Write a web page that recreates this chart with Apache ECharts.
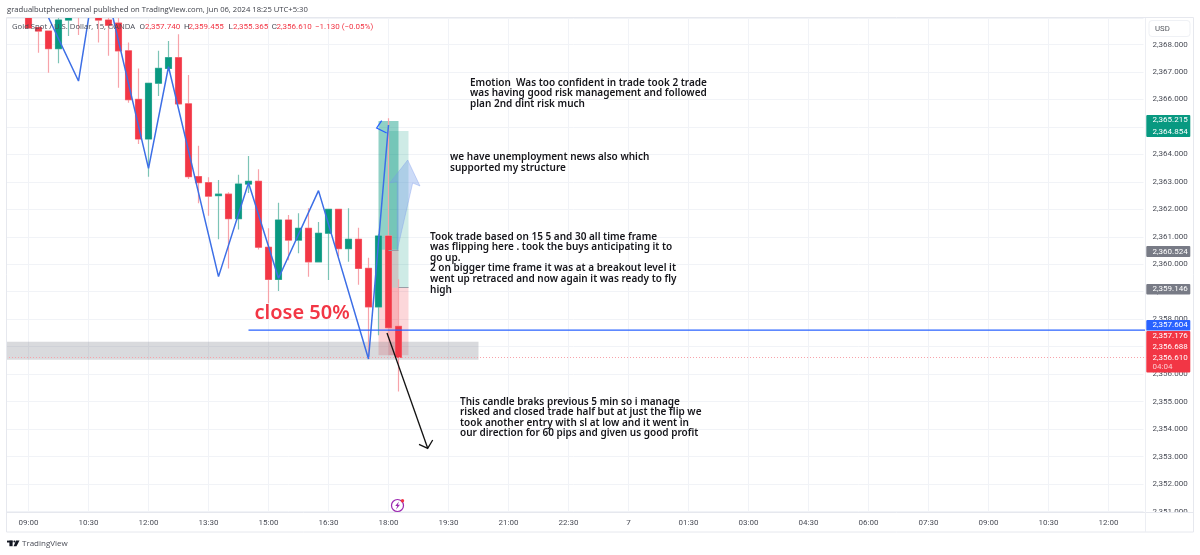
<!DOCTYPE html>
<html>
<head>
<meta charset="utf-8">
<title>Gold Spot / U.S. Dollar, 15, OANDA</title>
<style>
    html, body { margin: 0; padding: 0; background: #fff; }
    #main { width: 1200px; height: 555px; }
</style>
<script src="https://cdn.jsdelivr.net/npm/echarts@6/dist/echarts.min.js"></script>
</head>
<body>
<div id="main"></div>
<script>
// bar times, first bar on the axis is 08:30, one bar every 15 minutes
var categories = [];
for (var b = 0; b < 114; b++) {
    var m = (8 * 60 + 30 + b * 15) % 1440;
    var hh = Math.floor(m / 60), mm = m % 60;
    categories.push(m === 0 ? '7' : (hh < 10 ? '0' : '') + hh + ':' + (mm < 10 ? '0' : '') + mm);
}
var tickLabels = ['09:00', '10:30', '12:00', '13:30', '15:00', '16:30', '18:00', '19:30', '21:00', '22:30', '7', '01:30', '03:00', '04:30', '06:00', '07:30'];

var firstCandle = '09:00';
var opens = [2369.30, 2368.62, 2368.49, 2367.85, 2368.89, 2369.60, 2370.40, 2369.20, 2368.89, 2368.78, 2367.77, 2366.00, 2364.56, 2366.59, 2367.13, 2367.52, 2365.84, 2363.19, 2362.97, 2362.50, 2362.55, 2361.66, 2362.92, 2363.02, 2360.62, 2359.45, 2361.61, 2360.88, 2361.31, 2360.09, 2361.13, 2362.00, 2360.57, 2360.91, 2359.85, 2358.45, 2361.03, 2357.74];
var closes = [2368.60, 2368.49, 2367.85, 2368.89, 2369.00, 2369.20, 2370.00, 2368.89, 2368.70, 2367.77, 2365.99, 2364.56, 2366.59, 2367.13, 2367.52, 2365.84, 2363.19, 2362.97, 2362.48, 2362.55, 2361.66, 2362.92, 2363.02, 2360.62, 2359.45, 2361.61, 2360.88, 2361.31, 2360.09, 2361.13, 2362.00, 2360.57, 2360.91, 2359.85, 2358.45, 2361.03, 2357.69, 2356.61];
var lows = [2368.58, 2367.70, 2366.97, 2367.32, 2368.31, 2368.35, 2369.50, 2368.07, 2367.59, 2366.43, 2365.88, 2364.38, 2363.19, 2366.13, 2367.13, 2365.84, 2363.10, 2362.22, 2361.77, 2360.91, 2359.85, 2361.27, 2362.59, 2360.54, 2358.58, 2359.03, 2360.15, 2360.40, 2359.55, 2360.09, 2359.43, 2360.28, 2360.09, 2359.25, 2356.63, 2357.42, 2357.42, 2355.365];
var highs = [2369.50, 2368.62, 2368.49, 2369.10, 2369.20, 2369.80, 2370.90, 2369.50, 2369.00, 2368.965, 2368.07, 2367.13, 2366.59, 2367.77, 2368.13, 2368.37, 2366.89, 2364.31, 2363.17, 2363.07, 2362.62, 2363.26, 2363.94, 2363.46, 2361.31, 2362.24, 2361.79, 2361.86, 2362.04, 2361.54, 2362.00, 2362.00, 2362.04, 2361.33, 2360.24, 2361.10, 2365.32, 2359.455];

var zigzagTimes = ['09:15', '10:15', '10:45', '12:00', '12:30', '13:45', '14:30', '15:15', '16:15', '17:30', '18:00'];
var zigzagPrices = [2369.75, 2366.67, 2371.22, 2363.49, 2367.19, 2359.55, 2362.97, 2359.49, 2362.68, 2356.55, 2365.07];

var longA = {from: '17:45', to: '18:15', target: 2365.215, entry: 2360.524, stop: 2356.688};
var longB = {from: '18:00', to: '18:30', target: 2364.854, entry: 2359.146, stop: 2356.688};
var zoneTop = 2357.176, zoneBottom = 2356.52, zoneEnd = '20:15';
var levelStart = '14:30', levelPrice = 2357.604, lastPrice = 2356.61;

var legendKeys = ['O', 'H', 'L', 'C'];
var legendValues = ['2,357.740', '2,359.455', '2,355.365', '2,356.610'];
var legendChange = '\u22121.130 (\u22120.05%)';

var UP = '#089981', DOWN = '#f23645', BLUE = '#2962ff';
var NOTE_FONT = '"Noto Sans", "Open Sans", sans-serif';
var UI_FONT = '"Open Sans", sans-serif';

function bar(t) {
    return categories.indexOf(t);
}

var chart = echarts.init(document.getElementById('main'));

var wickData = [], bodyData = [], zigzagData = [];
var offset = bar(firstCandle);
for (var i = 0; i < offset; i++) {
    wickData.push('-');
    bodyData.push('-');
}
for (var j = 0; j < opens.length; j++) {
    wickData.push([opens[j], closes[j], lows[j], highs[j]]);
    bodyData.push([opens[j], closes[j], Math.min(opens[j], closes[j]), Math.max(opens[j], closes[j])]);
}
for (var k = 0; k < zigzagTimes.length; k++) {
    zigzagData.push([bar(zigzagTimes[k]), zigzagPrices[k]]);
}

function text(str, x, y, size, color, extra) {
    var style = {text: str, x: x, y: y, fontSize: size, fill: color, fontFamily: 'Roboto, sans-serif', verticalAlign: 'middle'};
    for (var key in (extra || {})) {
        style[key] = extra[key];
    }
    return {type: 'text', z: 110, silent: true, style: style};
}

function note(lines, x, ys) {
    return lines.map(function (line, idx) {
        return text(line, x, ys[idx], 10, '#15151a', {fontFamily: NOTE_FONT, fontWeight: 600});
    });
}

function tag(x, y, w, h, color) {
    return {type: 'rect', z: 105, silent: true, shape: {x: x, y: y, width: w, height: h, r: 1}, style: {fill: color}};
}

function priceText(str, y, color) {
    return text(str, 1152.5, y, 8, color || '#fff');
}

var graphics = [
    // masks for whatever runs past the pane, then its frame
    {type: 'rect', z: 90, silent: true, shape: {x: 0, y: 0, width: 1200, height: 17.5}, style: {fill: '#fff'}},
    {type: 'rect', z: 90, silent: true, shape: {x: 0, y: 18, width: 6, height: 495}, style: {fill: '#fff'}},
    {type: 'rect', z: 91, silent: true, shape: {x: 1146, y: 512.5, width: 47, height: 10}, style: {fill: '#fff'}},
    {type: 'rect', z: 92, silent: true, shape: {x: 6.5, y: 17.5, width: 1187, height: 514.5}, style: {fill: 'none', stroke: '#e6e8ee', lineWidth: 1}},
    {type: 'line', z: 92, silent: true, shape: {x1: 6.5, y1: 512.5, x2: 1193.5, y2: 512.5}, style: {stroke: '#e6e8ee', lineWidth: 1}},
    {type: 'line', z: 92, silent: true, shape: {x1: 1145.5, y1: 18, x2: 1145.5, y2: 532}, style: {stroke: '#eceef3', lineWidth: 1}},

    text('gradualbutphenomenal published on TradingView.com, Jun 06, 2024 18:25 UTC+5:30', 7, 9.5, 7.65, '#3c3f48', {fontFamily: UI_FONT}),
    text('Gold Spot / U.S. Dollar, 15, OANDA', 12, 27, 7.7, '#4a4d57', {fontFamily: UI_FONT}),
    text(legendKeys[0], 139.5, 27, 8, '#4a4d57'),
    text(legendValues[0], 145, 27, 8, DOWN),
    text(legendKeys[1], 184, 27, 8, '#4a4d57'),
    text(legendValues[1], 188.5, 27, 8, DOWN),
    text(legendKeys[2], 228.5, 27, 8, '#4a4d57'),
    text(legendValues[2], 233, 27, 8, DOWN),
    text(legendKeys[3], 271.7, 27, 8, '#4a4d57'),
    text(legendValues[3], 276.5, 27, 8, DOWN),
    text(legendChange, 315, 27, 8, DOWN),

    // drawings on the chart
    {type: 'polygon', z: 60, silent: true,
        shape: {points: [[407.7, 160], [420, 186], [412.7, 183], [397.3, 250], [397.3, 181.7], [390, 182.7]]},
        style: {fill: 'rgba(120,160,235,0.38)', stroke: 'rgba(120,150,235,0.35)', lineWidth: 1}},
    {type: 'polyline', z: 60, silent: true,
        shape: {points: [[381.7, 120.7], [376.7, 128], [386.7, 133]]},
        style: {fill: 'none', stroke: BLUE, lineWidth: 1.3}},
    {type: 'polyline', z: 80, silent: true,
        shape: {points: [[387, 333], [427.7, 448.3]]},
        style: {fill: 'none', stroke: '#111', lineWidth: 1.3}},
    {type: 'polyline', z: 80, silent: true,
        shape: {points: [[419, 444.3], [427.7, 448.3], [432.7, 440]]},
        style: {fill: 'none', stroke: '#111', lineWidth: 1.3}},
    text('close 50%', 254.5, 313, 20, DOWN, {fontFamily: NOTE_FONT, fontWeight: 600}),

    // lightning marker
    {type: 'circle', z: 80, silent: true, shape: {cx: 397.5, cy: 505.5, r: 6}, style: {fill: '#fff', stroke: '#9c27b0', lineWidth: 1.2}},
    {type: 'polygon', z: 81, silent: true, shape: {points: [[399, 501.5], [395.2, 506], [397.3, 506], [396, 509.5], [400, 504.8], [397.8, 504.8]]}, style: {fill: '#9c27b0'}},
    {type: 'circle', z: 82, silent: true, shape: {cx: 402.5, cy: 500.8, r: 1.7}, style: {fill: DOWN}},

    // price tags
    {type: 'rect', z: 100, silent: true, shape: {x: 1149, y: 20.5, width: 41, height: 16, r: 3}, style: {fill: '#fff', stroke: '#eff1f5', lineWidth: 1}},
    text('USD', 1155, 29, 7.8, '#55585f'),
    tag(1146.3, 115, 44, 22, UP),
    priceText('2,365.215', 120),
    priceText('2,364.854', 131.5),
    tag(1146.3, 246, 44, 11, '#787b86'),
    priceText('2,360.524', 251.5),
    tag(1146.3, 284, 44, 10.5, '#787b86'),
    priceText('2,359.146', 289),
    tag(1146.3, 320, 44, 10.5, BLUE),
    priceText('2,357.604', 325),
    tag(1146.3, 331, 44, 41.5, DOWN),
    priceText('2,357.176', 336),
    priceText('2,356.688', 346.7),
    priceText('2,356.610', 358),
    priceText('04:04', 367.3, '#fbc9ce'),

    // footer
    {type: 'rect', z: 110, silent: true, shape: {x: 7, y: 540.6, width: 5.6, height: 1.9}, style: {fill: '#131722'}},
    {type: 'rect', z: 110, silent: true, shape: {x: 9.4, y: 540.6, width: 3.2, height: 5.6}, style: {fill: '#131722'}},
    {type: 'circle', z: 110, silent: true, shape: {cx: 14.4, cy: 541.5, r: 1}, style: {fill: '#131722'}},
    {type: 'polygon', z: 110, silent: true, shape: {points: [[16, 540.6], [19.5, 540.6], [16.5, 546.2], [13.6, 546.2]]}, style: {fill: '#131722'}},
    text('TradingView', 22, 543.5, 8, '#4a4d57', {fontFamily: UI_FONT})
];
graphics = graphics
    .concat(note(['Emotion  Was too confident in trade took 2 trade', 'was having good risk management and followed', 'plan 2nd dint risk much'], 470, [82.7, 93.2, 103.7]))
    .concat(note(['we have unemployment news also which', 'supported my structure'], 450, [157.3, 168]))
    .concat(note(['Took trade based on 15 5 and 30 all time frame', 'was flipping here . took the buys anticipating it to', 'go up.', '2 on bigger time frame it was at a breakout level it', 'went up retraced and now again it was ready to fly', 'high'], 430, [236.7, 247.4, 258, 268.5, 279, 289.7]))
    .concat(note(['This candle braks previous 5 min so i manage', 'risked and closed trade half but at just the flip we', 'took another entry with sl at low and it went in', 'our direction for 60 pips and given us good profit'], 460, [401.7, 412.3, 423, 433.3]));

var option = {
    animation: false,
    backgroundColor: '#fff',
    grid: {left: 3.5, top: 18, width: 1140, bottom: 43.5, containLabel: false},
    xAxis: {
        type: 'category',
        data: categories,
        boundaryGap: true,
        axisLine: {show: false},
        axisTick: {show: false, alignWithLabel: true},
        axisLabel: {
            color: '#4a4d57',
            fontSize: 8,
            fontFamily: 'Roboto, sans-serif',
            margin: 7,
            interval: function (index, value) {
                return tickLabels.indexOf(value) >= 0;
            }
        },
        splitLine: {
            show: true,
            alignWithLabel: true,
            lineStyle: {color: '#f1f3f7', width: 1},
            interval: function (index, value) {
                return tickLabels.indexOf(value) >= 0;
            }
        }
    },
    yAxis: {
        type: 'value',
        position: 'right',
        min: 2351,
        max: 2368.965,
        interval: 1,
        axisLine: {show: false},
        axisTick: {show: false},
        axisLabel: {
            color: '#4a4d57',
            fontSize: 8,
            fontFamily: 'Roboto, sans-serif',
            margin: 9,
            showMaxLabel: false,
            formatter: function (v) {
                return v.toLocaleString('en-US', {minimumFractionDigits: 3, maximumFractionDigits: 3});
            }
        },
        splitLine: {show: true, lineStyle: {color: '#f1f3f7', width: 1}}
    },
    series: [
        {
            name: 'wicks',
            type: 'candlestick',
            data: wickData,
            barWidth: 7,
            z: 3,
            silent: true,
            itemStyle: {color: '#7cc4b6', color0: '#f7a3aa', borderColor: '#7cc4b6', borderColor0: '#f7a3aa', borderWidth: 1.2},
            markArea: {
                silent: true,
                z: 1,
                data: [
                    [{xAxis: bar(longA.from), yAxis: longA.target, itemStyle: {color: 'rgba(8,153,129,0.45)'}}, {xAxis: bar(longA.to), yAxis: longA.entry}],
                    [{xAxis: bar(longA.from), yAxis: longA.entry, itemStyle: {color: 'rgba(242,54,69,0.22)'}}, {xAxis: bar(longA.to), yAxis: longA.stop}],
                    [{xAxis: bar(longB.from), yAxis: longB.target, itemStyle: {color: 'rgba(8,153,129,0.2)'}}, {xAxis: bar(longB.to), yAxis: longB.entry}],
                    [{xAxis: bar(longB.from), yAxis: longB.entry, itemStyle: {color: 'rgba(242,54,69,0.2)'}}, {xAxis: bar(longB.to), yAxis: longB.stop}],
                    [{yAxis: zoneTop, itemStyle: {color: 'rgba(120,123,134,0.28)'}}, {xAxis: bar(zoneEnd), yAxis: zoneBottom}]
                ]
            },
            markLine: {
                silent: true,
                symbol: 'none',
                label: {show: false},
                lineStyle: {color: '#9a9da6', width: 1, type: 'solid'},
                data: [
                    [{coord: [bar('18:00'), longA.entry]}, {coord: [bar('18:15'), longA.entry]}],
                    [{coord: [bar('18:15'), longB.entry]}, {coord: [bar('18:30'), longB.entry]}]
                ]
            }
        },
        {
            name: 'bodies',
            type: 'candlestick',
            data: bodyData,
            barWidth: 7,
            z: 4,
            silent: true,
            itemStyle: {color: UP, color0: DOWN, borderColor: UP, borderColor0: DOWN, borderWidth: 0.5}
        },
        {
            name: 'zigzag',
            type: 'line',
            data: zigzagData,
            z: 5,
            symbol: 'none',
            silent: true,
            lineStyle: {color: '#3d6fe6', width: 1.5}
        }
    ],
    graphic: {elements: graphics}
};
chart.setOption(option);

// the blue level and the last price line run right up to the tags, past the last bar centre
var levelY = chart.convertToPixel({yAxisIndex: 0}, levelPrice);
var levelX = chart.convertToPixel({xAxisIndex: 0}, bar(levelStart));
var lastY = Math.round(chart.convertToPixel({yAxisIndex: 0}, lastPrice)) + 0.5;
graphics.push({type: 'line', z: 60, silent: true, shape: {x1: levelX, y1: levelY, x2: 1146.3, y2: levelY}, style: {stroke: BLUE, lineWidth: 1.3}});
graphics.push({type: 'line', z: 60, silent: true, shape: {x1: 6, y1: lastY, x2: 1146.3, y2: lastY}, style: {stroke: '#f7a3aa', lineWidth: 1, lineDash: [1, 2]}});
chart.setOption({graphic: {elements: graphics}});
</script>
</body>
</html>
